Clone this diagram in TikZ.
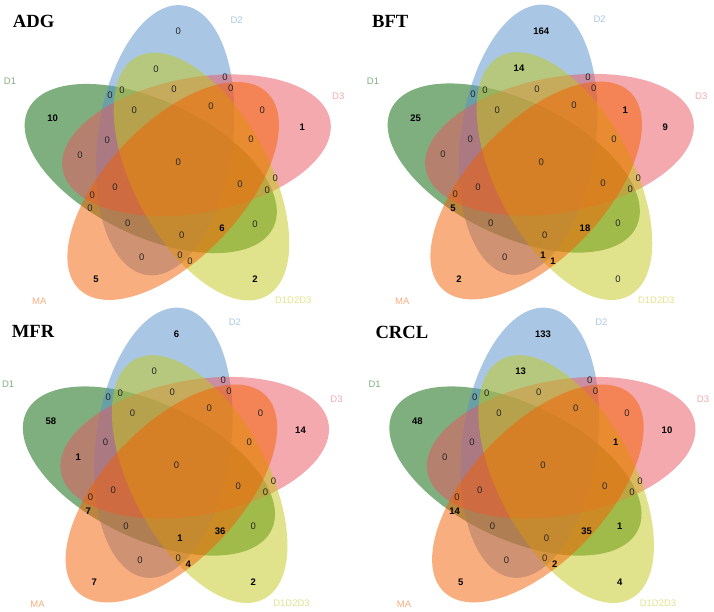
\documentclass[tikz,border=0pt]{standalone}
\usepackage{fontspec}
\setmainfont{Liberation Serif}
\newfontfamily\arialf{Liberation Sans}
\definecolor{cgreen}{RGB}{0,95,0}
\definecolor{cblue}{RGB}{85,145,205}
\definecolor{cpink}{RGB}{235,85,95}
\definecolor{cyell}{RGB}{195,201,25}
\definecolor{corange}{RGB}{245,95,0}
\def\posx{{178.3,156,225,230.7,110,122,174,52.7,134.3,211,262.3,302.3,107.3,251,80,178.3,275.3,240,115,267.3,92.3,90,127.7,222,255,181.7,141.7,180,190,96,255}}
\def\posy{{31.7,69,77.3,88.3,95,90.7,89.3,118.7,110.7,106,110.7,127.3,140,139.3,155,162.3,178.3,184,187.7,190,195,208.3,223.3,228.3,224,235.3,257.3,255.3,261.7,279.3,279.3}}
\newcommand\vennpanel[4]{%
\begin{scope}[shift={(#2,-#3)}]
  \fill[cgreen, ellf] (177.4,-164.3) ++(-171:27pt) circle[x radius=136pt, y radius=67.5pt, rotate=154.4];
  \fill[cblue, ellf] (177.4,-164.3) ++(117:27pt) circle[x radius=136pt, y radius=67.5pt, rotate=82.4];
  \fill[cpink, ellf] (177.4,-164.3) ++(45:27pt) circle[x radius=136pt, y radius=67.5pt, rotate=10.4];
  \fill[cyell, ellf] (177.4,-164.3) ++(-27:27pt) circle[x radius=136pt, y radius=67.5pt, rotate=-61.6];
  \fill[corange, ellf] (177.4,-164.3) ++(-99:27pt) circle[x radius=136pt, y radius=67.5pt, rotate=-133.6];
  \foreach \v [count=\i from 0] in {#4} {
    \pgfmathsetmacro\px{\posx[\i]}
    \pgfmathsetmacro\py{\posy[\i]}
    \ifnum\v=0
      \node[numz] (#1r\i) at (\px,-\py) {\v};
    \else
      \node[numb] (#1r\i) at (\px,-\py) {\v};
    \fi
  }
  \node[setlab, text=cblue!50!white] (#1D2) at (236.7,-20) {D2};
  \node[setlab, text=cgreen!50!white] (#1D1) at (10,-81.7) {D1};
  \node[setlab, text=cpink!50!white] (#1D3) at (338.3,-96.7) {D3};
  \node[setlab, text=corange!50!white] (#1MA) at (39.3,-301.7) {MA};
  \node[setlab, text=cyell!50!white] (#1D123) at (293.3,-300.7) {D1D2D3};
\end{scope}}
\begin{document}
\begin{tikzpicture}[x=1pt,y=1pt,
  ellf/.style={fill opacity=0.5},
  numz/.style={font=\arialf\fontsize{9.5}{10}\selectfont, text=black!85, inner sep=0pt},
  numb/.style={font=\arialf\bfseries\fontsize{9.5}{10}\selectfont, text=black, inner sep=0pt},
  setlab/.style={font=\arialf\fontsize{9.5}{10}\selectfont, inner sep=0pt},
  ttl/.style={font=\bfseries\fontsize{18.6}{20}\selectfont, inner sep=0pt, anchor=base west}]
\useasboundingbox (0,0) rectangle (714,-611);
\fill[white] (0,0) rectangle (714,-611);
\vennpanel{a}{0}{0}{0,0,0,0,0,0,0,10,0,0,0,1,0,0,0,0,0,0,0,0,0,0,0,6,0,0,0,0,0,5,2}
\vennpanel{b}{363}{-0.5}{164,14,0,0,0,0,0,25,0,0,1,9,0,0,0,0,0,0,0,0,0,5,0,18,0,0,0,1,1,2,0}
\vennpanel{c}{-1.8}{302.5}{6,0,0,0,0,0,0,58,0,0,0,14,0,0,1,0,0,0,0,0,0,7,0,36,0,1,0,0,4,7,2}
\vennpanel{d}{364.7}{302.5}{133,13,0,0,0,0,0,48,0,0,0,10,0,1,0,0,0,0,0,0,0,14,0,35,1,0,0,0,2,5,4}
\node[ttl] (tadg) at (12.7,-27.3) {ADG};
\node[ttl] (tbft) at (372,-27.3) {BFT};
\node[ttl] (tmfr) at (11.7,-337.3) {MFR};
\node[ttl] (tcrcl) at (375.3,-338.3) {CRCL};
\end{tikzpicture}
\end{document}
